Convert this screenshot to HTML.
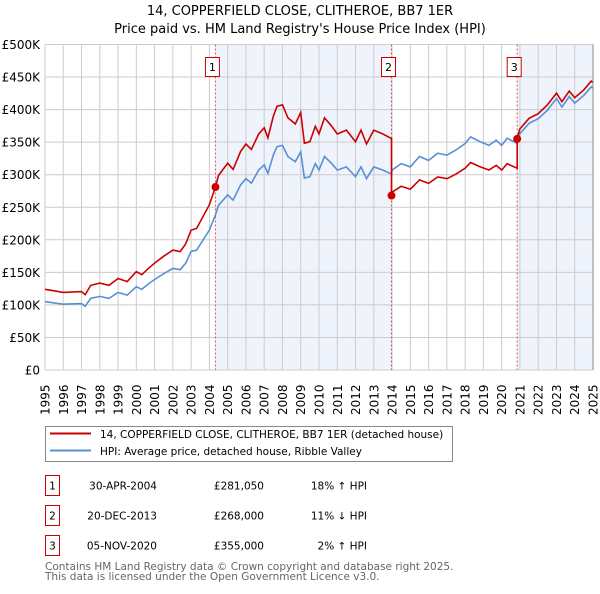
<!DOCTYPE html>
<html><head><meta charset="utf-8">
<style>
body{margin:0;background:#fff;width:600px;height:590px;overflow:hidden;font-family:"DejaVu Sans","Liberation Sans",sans-serif;}
svg text{font-family:"DejaVu Sans","Liberation Sans",sans-serif;}
</style></head><body>
<svg id="chart" width="600" height="590" viewBox="0 0 600 590" xmlns="http://www.w3.org/2000/svg">
<text x="300" y="15" text-anchor="middle" font-size="13" fill="#000">14, COPPERFIELD CLOSE, CLITHEROE, BB7 1ER</text>
<text x="300" y="33" text-anchor="middle" font-size="13" fill="#000">Price paid vs. HM Land Registry's House Price Index (HPI)</text>
<g id="plot"></g>
<g>
<rect x="45.5" y="426.5" width="407" height="35" fill="#fff" stroke="#888"/>
<line x1="50" y1="433.5" x2="91" y2="433.5" stroke="#cc0000" stroke-width="2"/>
<text x="100" y="438" font-size="10.5">14, COPPERFIELD CLOSE, CLITHEROE, BB7 1ER (detached house)</text>
<line x1="50" y1="450.5" x2="91" y2="450.5" stroke="#5b8fd4" stroke-width="2"/>
<text x="100" y="455" font-size="10.5">HPI: Average price, detached house, Ribble Valley</text>
</g>
<g id="table" font-size="10.5"></g>
<text x="45" y="570" font-size="10.5" fill="#666">Contains HM Land Registry data © Crown copyright and database right 2025.</text>
<text x="45" y="580" font-size="10.5" fill="#666">This data is licensed under the Open Government Licence v3.0.</text>
</svg>
<script>
const hpiYears=[1995,1995.5,1996,1997,1997.2,1997.5,1998,1998.5,1999,1999.5,2000,2000.3,2000.7,2001,2001.5,2002,2002.4,2002.7,2003,2003.3,2004,2004.33,2004.5,2005,2005.3,2005.7,2006,2006.3,2006.7,2007,2007.2,2007.5,2007.7,2008,2008.3,2008.7,2009,2009.2,2009.5,2009.8,2010,2010.3,2010.7,2011,2011.5,2012,2012.3,2012.6,2013,2013.5,2013.97,2014,2014.5,2015,2015.5,2016,2016.5,2017,2017.5,2018,2018.3,2018.8,2019.3,2019.7,2020,2020.3,2020.85,2021,2021.5,2022,2022.5,2023,2023.3,2023.7,2024,2024.5,2024.9,2025];
const hpiValues=[105,103,101,102,98,110,113,110,119,115,128,124,133,139,148,156,154,164,182,184,215,238,253,269,261,284,294,287,307,315,302,330,343,345,328,320,335,295,297,317,307,328,317,307,312,297,312,294,312,307,301,307,317,312,328,322,333,330,338,348,358,351,345,353,345,356,348,363,379,386,399,417,404,420,410,422,435,433];
const saleYears=[2004.33,2013.97,2020.85];
const salePrices=[281050,268000,355000];
const saleLabels=["1","2","3"];
const saleDates=["30-APR-2004","20-DEC-2013","05-NOV-2020"];
const salePct=["18% \u2191 HPI","11% \u2193 HPI","2% \u2191 HPI"];
const yTicks=[0,50,100,150,200,250,300,350,400,450,500];
const yTickLabels=["£0","£50K","£100K","£150K","£200K","£250K","£300K","£350K","£400K","£450K","£500K"];
const xTicks=[1995,1996,1997,1998,1999,2000,2001,2002,2003,2004,2005,2006,2007,2008,2009,2010,2011,2012,2013,2014,2015,2016,2017,2018,2019,2020,2021,2022,2023,2024,2025];

const X0=45,X1=593,Y0=370,Y1=44.5;
const xs=y=>X0+(y-1995)/30*(X1-X0);
const ys=v=>Y0-v/500*(Y0-Y1);
const NS="http://www.w3.org/2000/svg";
const plot=document.getElementById('plot');
function mk(tag,attrs,parent){const e=document.createElementNS(NS,tag);for(const k in attrs)e.setAttribute(k,attrs[k]);(parent||plot).appendChild(e);return e;}
function hpiAt(t){for(let i=0;i<hpiYears.length-1;i++){if(t<=hpiYears[i+1]){const f=(t-hpiYears[i])/(hpiYears[i+1]-hpiYears[i]);return hpiValues[i]+f*(hpiValues[i+1]-hpiValues[i]);}}return hpiValues[hpiValues.length-1];}

const sh1=mk('rect',{x:xs(saleYears[0]),y:Y1,width:xs(saleYears[1])-xs(saleYears[0]),height:Y0-Y1,fill:'#eef3fc'});


const sh2=mk('rect',{x:xs(saleYears[2]),y:Y1,width:X1-xs(saleYears[2]),height:Y0-Y1,fill:'#eef3fc'});



xTicks.forEach(t=>{
 const l=mk('line',{x1:xs(t),x2:xs(t),y1:Y1,y2:Y0,stroke:'#cccccc','stroke-width':1});
 
 
 const lx=(xs(t)+4.5).toFixed(1), ly=Y0+45;
 const tx=mk('text',{x:lx,y:ly,transform:'rotate(-90 '+lx+' '+ly+')','font-size':12,fill:'#000'});
 tx.textContent=t;
 
 
});
yTicks.forEach((v,i)=>{
 const l=mk('line',{x1:X0,x2:X1,y1:ys(v),y2:ys(v),stroke:'#cccccc','stroke-width':1});
 
 
 const tx=mk('text',{x:X0-5,y:ys(v)+4.5,'text-anchor':'end','font-size':12,fill:'#000'});
 tx.textContent=yTickLabels[i];
 
 
});

saleYears.forEach((s,i)=>{
 const l=mk('line',{x1:xs(s),x2:xs(s),y1:Y1,y2:Y0,stroke:'#e05050','stroke-width':1,'stroke-dasharray':'2,2'});
 
 
 const b=mk('rect',{x:xs(s)-10,y:57.5,width:14,height:19,fill:'#fff',stroke:'#cc0000'});
 
 
 const t=mk('text',{x:xs(s)-3,y:71,'text-anchor':'middle','font-size':11});
 t.textContent=saleLabels[i];
 
 
});

let d='';
hpiYears.forEach((y,i)=>{d+=(i?'L':'M')+xs(y).toFixed(1)+','+ys(hpiValues[i]).toFixed(1);});
const hl=mk('path',{d,fill:'none',stroke:'#5b8fd4','stroke-width':1.6});



const ratios=salePrices.map((p,i)=>p/1000/hpiAt(saleYears[i]));
function ratioAt(t){let k=0;for(let i=0;i<saleYears.length;i++)if(t>=saleYears[i])k=i;return ratios[k];}
let d2='';
hpiYears.forEach((y,i)=>{
 for(let k=0;k<saleYears.length;k++){
   if(i>0&&hpiYears[i-1]<saleYears[k]&&y>saleYears[k]){
     const h=hpiAt(saleYears[k]);
     d2+='L'+xs(saleYears[k]).toFixed(1)+','+ys(h*ratioAt(saleYears[k]-0.001)).toFixed(1);
     d2+='L'+xs(saleYears[k]).toFixed(1)+','+ys(h*ratios[k]).toFixed(1);
   }
 }
 const r=(saleYears.includes(y))?ratioAt(y-0.001):ratioAt(y);
 d2+=(i?'L':'M')+xs(y).toFixed(1)+','+ys(hpiValues[i]*r).toFixed(1);
 if(saleYears.includes(y)){d2+='L'+xs(y).toFixed(1)+','+ys(hpiValues[i]*ratioAt(y)).toFixed(1);}
});
const pl=mk('path',{d:d2,fill:'none',stroke:'#cc0000','stroke-width':1.6});



saleYears.forEach((s,i)=>{
 const c=mk('circle',{cx:xs(s),cy:ys(salePrices[i]/1000),r:4,fill:'#cc0000'});
 
 
});

const ax=mk('line',{x1:X1,x2:X1,y1:Y1,y2:Y0,stroke:'#888','stroke-width':1});



const tb=document.getElementById('table');
saleYears.forEach((s,i)=>{
 const yy=475+i*30;
 const b=mk('rect',{x:45.5,y:yy+0.5,width:14,height:20,fill:'#fff',stroke:'#cc0000'},tb);
 
 
 const n=mk('text',{x:52.5,y:yy+14.5,'text-anchor':'middle'},tb);
 n.textContent=saleLabels[i];
 
 
 const dt=mk('text',{x:157,y:yy+14.5,'text-anchor':'end'},tb);
 dt.textContent=saleDates[i];
 
 
 const pr=mk('text',{x:264,y:yy+14.5,'text-anchor':'end'},tb);
 pr.textContent='£'+salePrices[i].toLocaleString('en-GB');
 
 
 const pc=mk('text',{x:367,y:yy+14.5,'text-anchor':'end'},tb);
 pc.textContent=salePct[i];
 
 
});
</script>
</body></html>
